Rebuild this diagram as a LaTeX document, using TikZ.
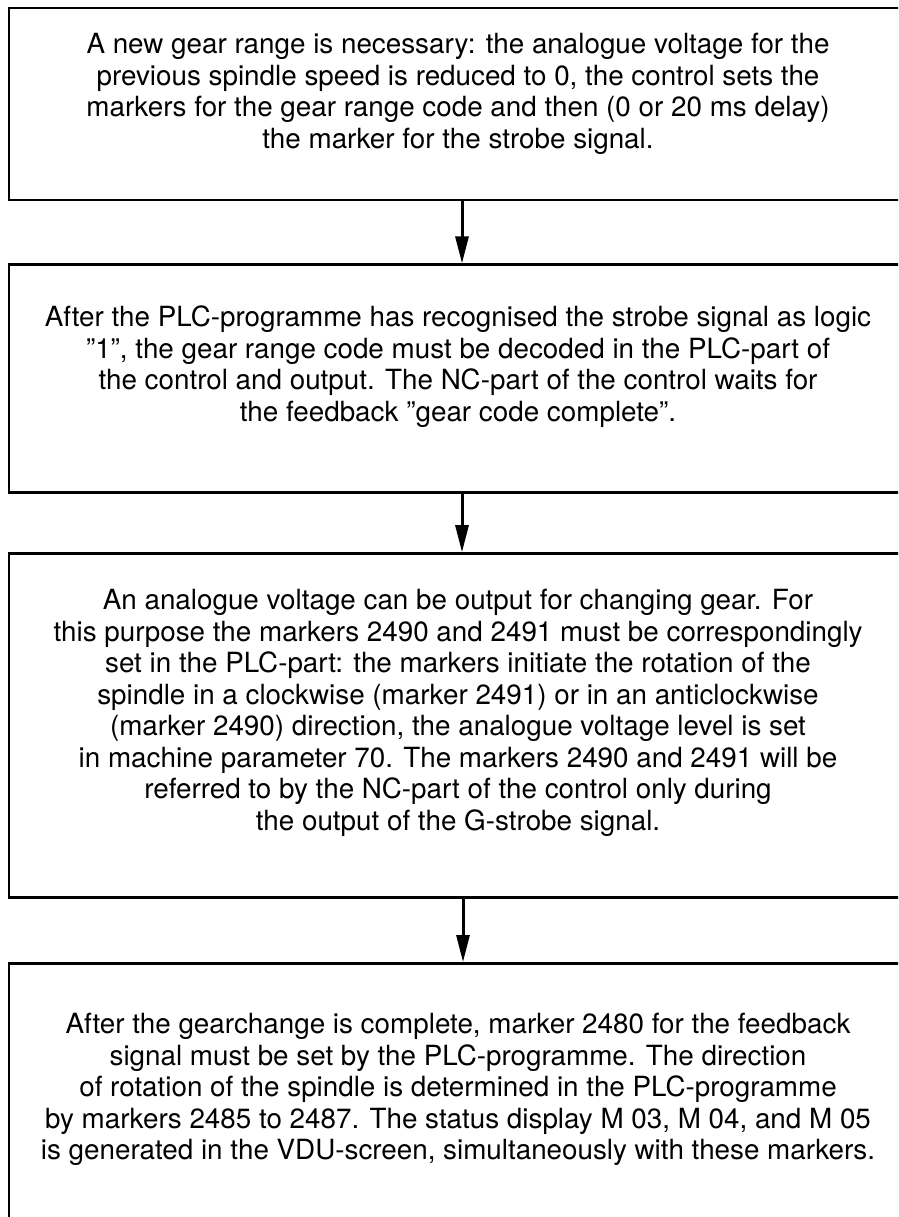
\documentclass[tikz,border=0pt]{standalone}
\usepackage{fontspec}
\setmainfont{TeX Gyre Heros}
\usetikzlibrary{arrows.meta,positioning}

\begin{document}
\begin{tikzpicture}[x=1pt,y=-1pt,
  stepbox/.style={draw, line width=2.8pt, minimum width=898pt, inner sep=0pt},
  steptext/.style={align=center, inner sep=0pt,
                   font=\fontsize{27.8}{31.5}\selectfont},
  flow/.style={-{Triangle[length=27pt,width=13pt]}, line width=3pt},
  >=Triangle]
\useasboundingbox (0,0) rectangle (898,1217);
\clip (0,0) rectangle (898,1217);
% boxes, open to the right and at the bottom (cut by the page)
\node[stepbox, minimum height=192pt] (range) at (458,104) {};
\node[stepbox, minimum height=228pt, below=62pt of range]  (decode) {};
\node[stepbox, minimum height=344pt, below=58pt of decode] (volt)   {};
\node[stepbox, minimum height=266pt, below=63pt of volt]   (done)   {};
% texts
\node[steptext] (rangetxt) at ([yshift=10pt]range.center)
  {A new gear range is necessary: the analogue voltage for the\\
   previous spindle speed is reduced to 0, the control sets the\\
   markers for the gear range code and then (0 or 20 ms delay)\\
   the marker for the strobe signal.};
\node[steptext] (decodetxt) at ([yshift=12pt]decode.center)
  {After the PLC-programme has recognised the strobe signal as logic\\
   ''1'', the gear range code must be decoded in the PLC-part of\\
   the control and output. The NC-part of the control waits for\\
   the feedback ''gear code complete''.};
\node[steptext] (volttxt) at ([yshift=13pt]volt.center)
  {An analogue voltage can be output for changing gear. For\\
   this purpose the markers 2490 and 2491 must be correspondingly\\
   set in the PLC-part: the markers initiate the rotation of the\\
   spindle in a clockwise (marker 2491) or in an anticlockwise\\
   (marker 2490) direction, the analogue voltage level is set\\
   in machine parameter 70. The markers 2490 and 2491 will be\\
   referred to by the NC-part of the control only during\\
   the output of the G-strobe signal.};
\node[steptext] (donetxt) at ([yshift=7pt]done.center)
  {After the gearchange is complete, marker 2480 for the feedback\\
   signal must be set by the PLC-programme. The direction\\
   of rotation of the spindle is determined in the PLC-programme\\
   by markers 2485 to 2487. The status display M 03, M 04, and M 05\\
   is generated in the VDU-screen, simultaneously with these markers.};
% connectors
\draw[flow] ([xshift=4pt]range.south)  -- ([xshift=4pt]decode.north);
\draw[flow] ([xshift=4pt]decode.south) -- ([xshift=4pt]volt.north);
\draw[flow] ([xshift=5pt]volt.south)   -- ([xshift=5pt]done.north);
\end{tikzpicture}
\end{document}
